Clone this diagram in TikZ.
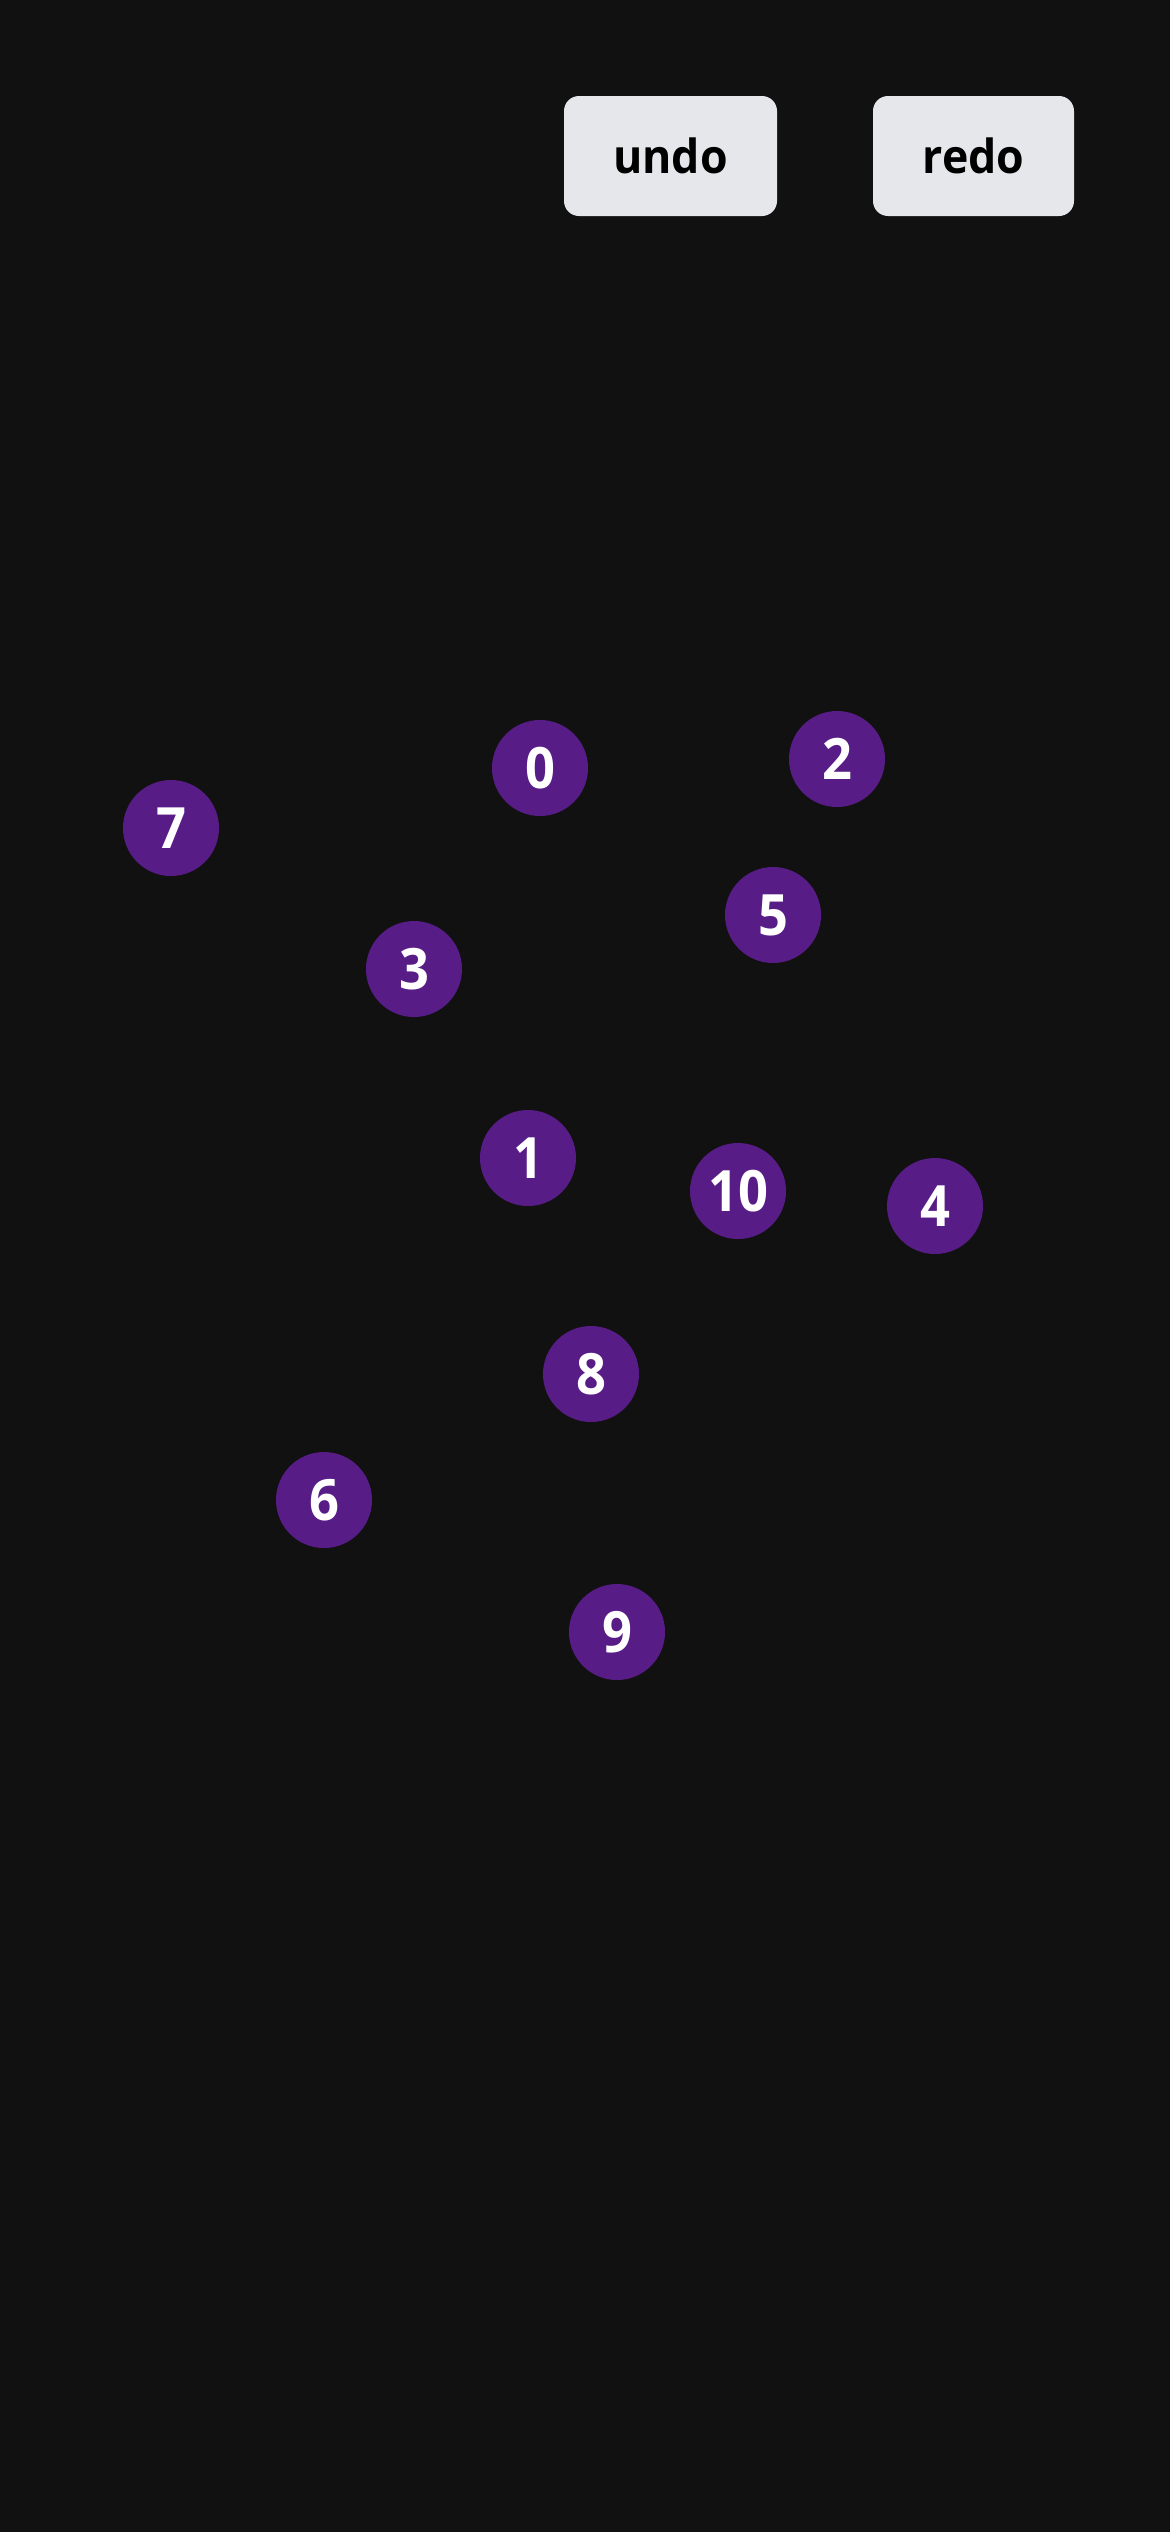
\documentclass[tikz,border=0pt]{standalone}
\usepackage{fontspec}
\setmainfont{Open Sans}
\newfontfamily\btnfont[FakeStretch=0.95]{Open Sans}
\newfontfamily\numfont[FakeStretch=0.92]{Open Sans}
\definecolor{bg}{HTML}{111111}
\definecolor{btn}{HTML}{E5E7EB}
\definecolor{vertex}{HTML}{581C87}
\begin{document}
\begin{tikzpicture}[x=1pt,y=-1pt,
  button/.style={draw=none,fill=btn,rounded corners=15pt,minimum height=120pt,inner sep=0pt,
    font=\btnfont\bfseries\fontsize{47}{50}\selectfont,text=black},
  vnode/.style={circle,fill=vertex,draw=none,minimum size=96pt,inner sep=0pt,
    font=\numfont\bfseries\fontsize{57}{60}\selectfont,text=white}]
\fill[bg] (0,0) rectangle (1170,2532);
\useasboundingbox (0,0) rectangle (1170,2532);
\node[button,minimum width=213pt] (undo) at (670.5,156) {undo};
\node[button,minimum width=201pt] (redo) at (973.5,156) {redo};
\node[vnode] (v0) at (540,768) {0};
\node[vnode] (v2) at (837,759) {2};
\node[vnode] (v7) at (171,828) {7};
\node[vnode] (v5) at (773,915) {5};
\node[vnode] (v3) at (414,969) {3};
\node[vnode] (v1) at (528,1158) {1};
\node[vnode] (v10) at (738,1191) {10};
\node[vnode] (v4) at (935,1206) {4};
\node[vnode] (v8) at (591,1374) {8};
\node[vnode] (v6) at (324,1500) {6};
\node[vnode] (v9) at (617,1632) {9};
\end{tikzpicture}
\end{document}
